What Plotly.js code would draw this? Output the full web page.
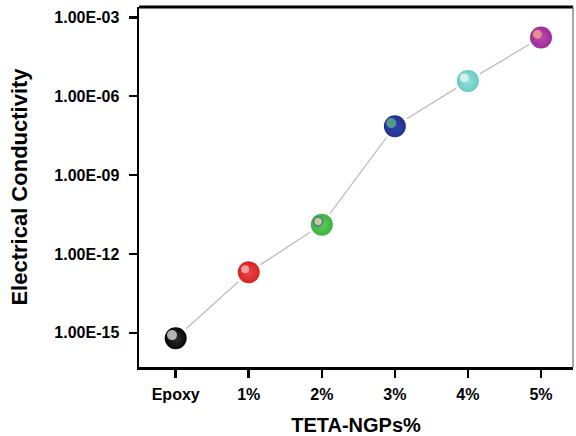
<!DOCTYPE html>
<html>
<head>
<meta charset="utf-8">
<script src="https://cdn.plot.ly/plotly-3.0.1.min.js"></script>
<style>html,body{margin:0;padding:0;background:#fff;}#chart{width:576px;height:436px;}</style>
</head>
<body>
<div id="chart"></div>
<script>
// Data
const categories = ["Epoxy", "1%", "2%", "3%", "4%", "5%"];
const conductivity = [6.2e-16, 2.0e-13, 1.3e-11, 7.2e-8, 3.8e-6, 1.7e-4];
const yTickValues = [1e-15, 1e-12, 1e-9, 1e-6, 1e-3];
const yTickLabels = ["1.00E-15", "1.00E-12", "1.00E-09", "1.00E-06", "1.00E-03"];

// Styling
const sphereEdge = ["#000000", "#d42020", "#3cb03c", "#1e2e8c", "#62c8c0", "#9c2894"];
const sphereCenter = ["#303030", "#ee4444", "#5ccc58", "#3446aa", "#96e2da", "#be48b4"];
const glowColor = ["#f4f4f4", "#ffc8c8", "#f6cdb8", "#5cc860", "#f4fcfb", "#f2b482"];
const glowRing = ["#ffffff", "#ffffff", "#4858b8", "#90b0e0", "#ffffff", "#ffffff"];
const glowRingW = [0, 0, 1.5, 1, 0, 0];
const glowSize = [10, 8, 9, 9, 9, 9];

const FONT = "Liberation Sans, Arial, Helvetica, sans-serif";
const yRange = [-16.30, -2.61];
const xRange = [-0.502, 5.438];
const dx = 0.05, dy = 0.12; // small offset of highlight layer

const traces = [
  {
    x: categories, y: conductivity, type: "scatter", mode: "lines",
    line: {color: "#bdbdbd", width: 1.3},
    hoverinfo: "skip", showlegend: false
  },
  {
    x: categories, y: conductivity, type: "scatter", mode: "markers",
    marker: {
      size: 25, color: sphereEdge,
      gradient: {type: "radial", color: sphereCenter},
      line: {color: "#ffffff", width: 3}
    },
    showlegend: false
  },
  {
    x: categories, y: conductivity, type: "scatter", mode: "markers",
    xaxis: "x2", yaxis: "y2",
    marker: {
      size: glowSize, color: glowColor,
      line: {color: glowRing, width: glowRingW}
    },
    hoverinfo: "skip", showlegend: false
  }
];

const layout = {
  width: 576, height: 436,
  margin: {l: 139, r: 3, t: 7, b: 69},
  paper_bgcolor: "#ffffff", plot_bgcolor: "#ffffff",
  font: {family: FONT, color: "#000"},
  xaxis: {
    type: "category", range: xRange,
    showline: true, linecolor: "#000", linewidth: 2.5,
    ticks: "outside", ticklen: 8, tickwidth: 2.5, tickcolor: "#000",
    showgrid: false, zeroline: false,
    ticklabelstandoff: 3,
    tickfont: {family: FONT, size: 16, weight: "bold", color: "#000"},
    title: {text: "TETA-NGPs%", font: {family: FONT, size: 20, weight: "bold", color: "#000"}, standoff: 19}
  },
  yaxis: {
    type: "log", range: yRange,
    tickvals: yTickValues, ticktext: yTickLabels,
    showline: true, linecolor: "#000", linewidth: 2.5,
    ticks: "outside", ticklen: 8, tickwidth: 2.5, tickcolor: "#000",
    showgrid: false, zeroline: false,
    ticklabelstandoff: 6,
    tickfont: {family: FONT, size: 16, weight: "bold", color: "#000"},
    title: {text: "Electrical Conductivity", font: {family: FONT, size: 22, weight: "bold", color: "#000"}, standoff: 21}
  },
  xaxis2: {type: "category", overlaying: "x", range: [xRange[0] + dx, xRange[1] + dx], visible: false},
  yaxis2: {type: "log", overlaying: "y", range: [yRange[0] - dy, yRange[1] - dy], visible: false},
  shapes: [
    {type: "line", xref: "paper", yref: "paper", x0: 0, x1: 1, y0: 1, y1: 1, line: {color: "#000", width: 3}},
    {type: "line", xref: "paper", yref: "paper", x0: 1, x1: 1, y0: 0, y1: 1, line: {color: "#555", width: 1}}
  ]
};

Plotly.newPlot("chart", traces, layout, {displayModeBar: false, staticPlot: true});
</script>
</body>
</html>
